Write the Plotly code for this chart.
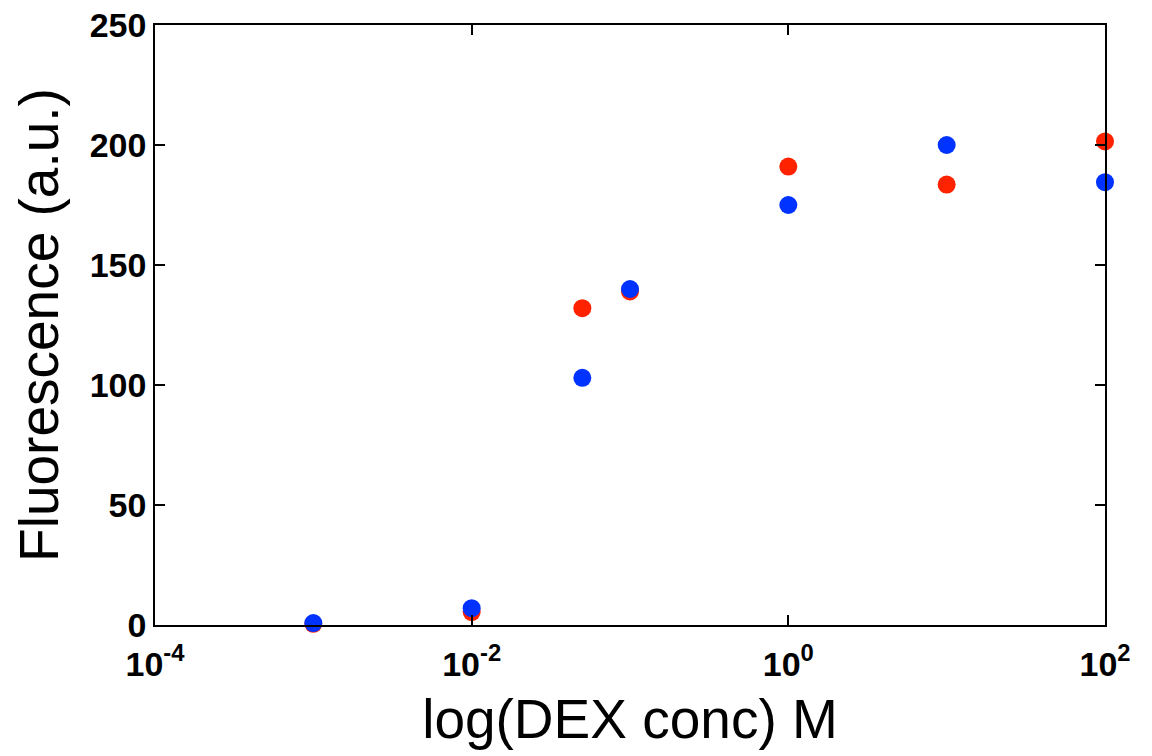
import plotly.graph_objects as go

conc = [1e-3, 1e-2, 0.05, 0.1, 1, 10, 100]
red_vals = [0.5, 5.4, 132, 139, 191, 183.5, 201.5]
blue_vals = [0.8, 7, 103, 140, 175, 200, 184.5]
x_tickvals = [1e-4, 1e-2, 1, 1e2]
x_ticktext = ["10<sup>-4</sup>", "10<sup>-2</sup>", "10<sup>0</sup>", "10<sup>2</sup>"]
y_tickvals = [0, 50, 100, 150, 200, 250]

fig = go.Figure()
fig.add_trace(go.Scatter(x=conc, y=red_vals, mode="markers",
                         marker=dict(color="#FF2200", size=18), cliponaxis=False, showlegend=False))
fig.add_trace(go.Scatter(x=conc, y=blue_vals, mode="markers",
                         marker=dict(color="#0033FF", size=18), cliponaxis=False, showlegend=False))

font_ticks = dict(family="Liberation Sans", size=34, color="black", weight="bold")
fig.update_layout(
    width=1152, height=756,
    paper_bgcolor="white", plot_bgcolor="white",
    margin=dict(l=147, r=55, t=17, b=139),
    font=dict(family="Liberation Sans", color="black"),
)
fig.update_xaxes(type="log", range=[-4, 2], tickvals=x_tickvals, ticktext=x_ticktext,
                 ticks="inside", ticklen=10, tickwidth=1.5, tickcolor="black",
                 showline=True, linecolor="black", linewidth=1.5, mirror="ticks",
                 showgrid=False, zeroline=False, tickfont=font_ticks,
                 ticklabeloverflow="allow", ticklabelstandoff=8, automargin=False,
                 title=dict(text="log(DEX conc) M", font=dict(size=55, family="Liberation Sans"), standoff=18))
fig.update_yaxes(range=[0, 250], tickvals=y_tickvals,
                 ticks="inside", ticklen=10, tickwidth=1.5, tickcolor="black",
                 showline=True, linecolor="black", linewidth=1.5, mirror="ticks",
                 showgrid=False, zeroline=False, tickfont=font_ticks,
                 ticklabeloverflow="allow", automargin=False,
                 title=dict(text="Fluorescence (a.u.)", font=dict(size=55, family="Liberation Sans"), standoff=14))
fig.write_html("out.html")
